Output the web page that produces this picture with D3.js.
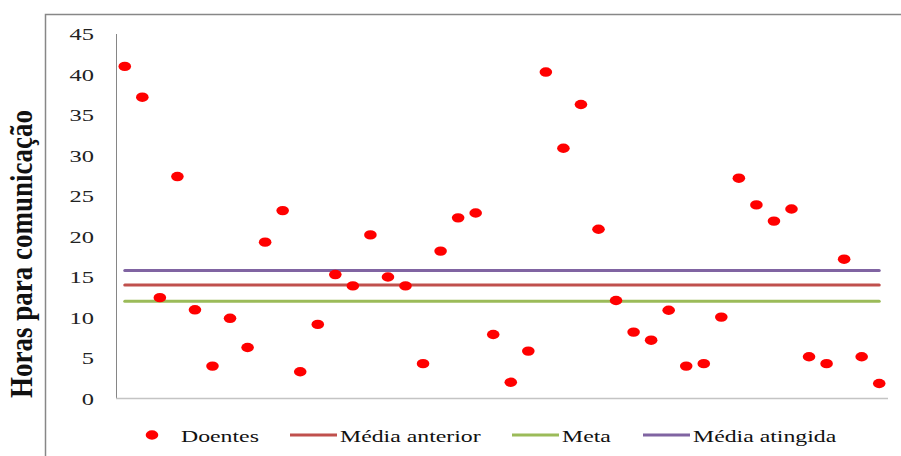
<!DOCTYPE html>
<html>
<head>
<meta charset="utf-8">
<script src="https://cdn.jsdelivr.net/npm/d3@7"></script>
<style>
  body { margin: 0; background: #fff; }
  svg { display: block; font-family: "Liberation Serif", "Times New Roman", serif; }
</style>
</head>
<body>
<svg></svg>
<script>
const width = 901
const height = 456

// Horas para comunicação, one value per doente
const doentes = [41, 37.2, 12.45, 27.4, 10.95, 4.0, 9.9, 6.3, 19.3, 23.2,
  3.3, 9.15, 15.3, 13.9, 20.2, 15.0, 13.9, 4.3, 18.2, 22.3,
  22.9, 7.9, 2.0, 5.85, 40.3, 30.9, 36.3, 20.9, 12.1, 8.2,
  7.2, 10.9, 4.0, 4.3, 10.05, 27.2, 23.9, 21.9, 23.4, 5.15,
  4.3, 17.2, 5.15, 1.85]
const mediaAnterior = 14
const meta = 12
const mediaAtingida = 15.8
const yTicks = [0, 5, 10, 15, 20, 25, 30, 35, 40, 45]

const seriesNames = ["Doentes", "Média anterior", "Meta", "Média atingida"]
const seriesColors = ["#ff0000", "#c0504d", "#9bbb59", "#8064a2"]

const svg = d3.select("svg")
  .attr("width", width)
  .attr("height", height)

// outer frame (cut off at right and bottom)
svg.append("path")
  .attr("d", "M45.5," + height + "V14.5H" + width)
  .attr("fill", "none")
  .attr("stroke", "#878787")
  .attr("stroke-width", 1.5)

const x = d3.scaleBand()
  .domain(d3.range(doentes.length))
  .range([116, 888])

const y = d3.scaleLinear()
  .domain([0, 45])
  .range([398.5, 34])

// axes
svg.append("line")
  .attr("x1", 116.5).attr("x2", 116.5)
  .attr("y1", y(45)).attr("y2", y(0))
  .attr("stroke", "#868686")

svg.append("line")
  .attr("x1", 116).attr("x2", 888)
  .attr("y1", y(0)).attr("y2", y(0))
  .attr("stroke", "#c4c4c4")
  .attr("stroke-width", 1.5)

svg.append("g")
  .selectAll("text")
  .data(yTicks)
  .enter()
  .append("text")
  .attr("transform", function (d) { return "translate(94," + (y(d) + 6) + ") scale(1.4,1)" })
  .style("text-anchor", "end")
  .style("font-size", "17.5px")
  .style("fill", "#222")
  .text(function (d) { return d })

svg.append("text")
  .attr("transform", "translate(32,254) scale(1.17,1) rotate(-90)")
  .style("text-anchor", "middle")
  .style("font-size", "27px")
  .style("font-weight", "bold")
  .style("fill", "#111")
  .text("Horas para comunicação")

// reference lines
const refLines = [
  { value: mediaAtingida, color: seriesColors[3] },
  { value: mediaAnterior, color: seriesColors[1] },
  { value: meta, color: seriesColors[2] }
]

const xFirst = x(0) + x.bandwidth() / 2
const xLast = x(doentes.length - 1) + x.bandwidth() / 2

svg.append("g")
  .selectAll("line")
  .data(refLines)
  .enter()
  .append("line")
  .attr("x1", xFirst)
  .attr("x2", xLast)
  .attr("y1", function (d) { return y(d.value) })
  .attr("y2", function (d) { return y(d.value) })
  .attr("stroke", function (d) { return d.color })
  .attr("stroke-width", 3)
  .attr("stroke-linecap", "round")

// points
svg.append("g")
  .selectAll("ellipse")
  .data(doentes)
  .enter()
  .append("ellipse")
  .attr("cx", function (d, i) { return x(i) + x.bandwidth() / 2 })
  .attr("cy", function (d) { return y(d) })
  .attr("rx", 6.3)
  .attr("ry", 4.7)
  .attr("fill", seriesColors[0])

// legend
const legendY = 435
const legendX = [152, 290, 512, 643]

const legend = svg.append("g")

legend.append("ellipse")
  .attr("cx", legendX[0])
  .attr("cy", legendY)
  .attr("rx", 6.3)
  .attr("ry", 4.7)
  .attr("fill", seriesColors[0])

legend.selectAll("line")
  .data([1, 2, 3])
  .enter()
  .append("line")
  .attr("x1", function (d) { return legendX[d] })
  .attr("x2", function (d) { return legendX[d] + 47 })
  .attr("y1", legendY)
  .attr("y2", legendY)
  .attr("stroke", function (d) { return seriesColors[d] })
  .attr("stroke-width", 3)

legend.selectAll("text")
  .data(seriesNames)
  .enter()
  .append("text")
  .attr("transform", function (d, i) {
    const tx = i == 0 ? 181 : legendX[i] + 50
    return "translate(" + tx + "," + (legendY + 7) + ") scale(1.36,1)"
  })
  .style("font-size", "17.5px")
  .style("fill", "#111")
  .text(function (d) { return d })
</script>
</body>
</html>
